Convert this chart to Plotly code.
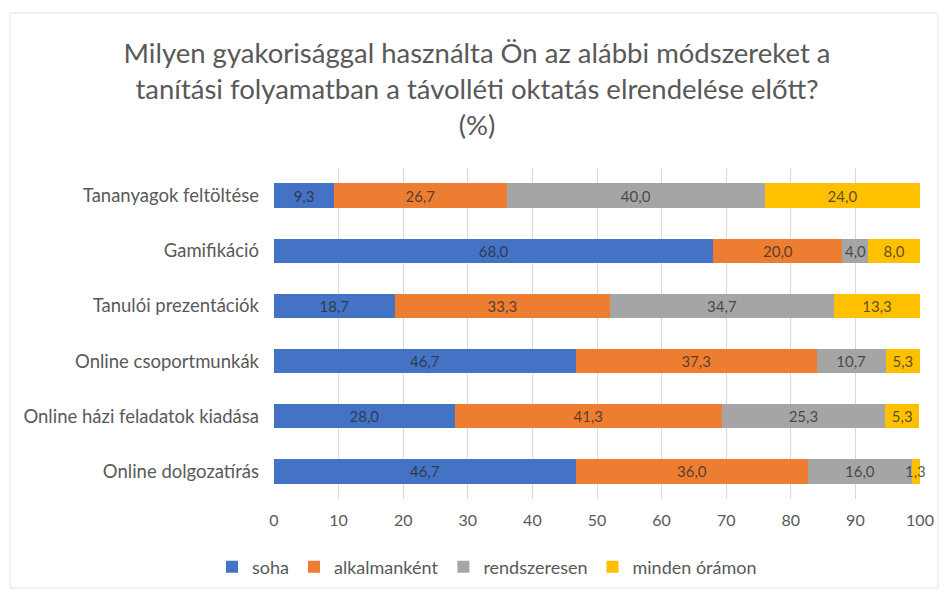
import plotly.graph_objects as go

categories = [
    "Tananyagok feltöltése",
    "Gamifikáció",
    "Tanulói prezentációk",
    "Online csoportmunkák",
    "Online házi feladatok kiadása",
    "Online dolgozatírás",
]
series_names = ["soha", "alkalmanként", "rendszeresen", "minden órámon"]
soha = [9.3, 68.0, 18.7, 46.7, 28.0, 46.7]
alkalmankent = [26.7, 20.0, 33.3, 37.3, 41.3, 36.0]
rendszeresen = [40.0, 4.0, 34.7, 10.7, 25.3, 16.0]
minden_oramon = [24.0, 8.0, 13.3, 5.3, 5.3, 1.3]
x_ticks = [0, 10, 20, 30, 40, 50, 60, 70, 80, 90, 100]

colors = ["#4472C4", "#ED7D31", "#A5A5A5", "#FFC000"]
values = [soha, alkalmankent, rendszeresen, minden_oramon]

font_family = "Lato, Open Sans, Liberation Sans, Arial, sans-serif"
label_color = "rgba(40,40,40,0.75)"
label_size = 15

L, R, T, H = 266, 35, 160, 331
W = 947 - L - R
B = 594 - T - H


def fmt(v):
    return f"{v:.1f}".replace(".", ",")


fig = go.Figure()
annotations = []
cumulative = [0.0] * len(categories)
for name, vals, col in zip(series_names, values, colors):
    templates = []
    for i, v in enumerate(vals):
        if v >= 5:
            templates.append("%{x:.1f}")
        else:
            templates.append("")
            # too narrow for inside text: label centred on the segment, overflowing
            annotations.append(dict(
                x=cumulative[i] + v / 2, y=categories[i], xref="x", yref="y",
                text=fmt(v), showarrow=False, xanchor="center",
                font=dict(color=label_color, size=label_size, family=font_family),
            ))
        cumulative[i] += v
    fig.add_trace(go.Bar(
        y=categories, x=vals, name=name, orientation="h",
        marker=dict(color=col, line=dict(width=0)),
        texttemplate=templates, textposition="inside",
        insidetextanchor="middle", textangle=0,
        textfont=dict(color=label_color, size=label_size, family=font_family),
    ))

fig.update_layout(
    barmode="stack",
    bargap=0.56,
    separators=", ",
    width=947, height=594,
    paper_bgcolor="white", plot_bgcolor="white",
    margin=dict(l=L, r=R, t=T, b=B),
    font=dict(family=font_family, color="#595959"),
    title=dict(
        text="Milyen gyakorisággal használta Ön az alábbi módszereket a<br>tanítási folyamatban a távolléti oktatás elrendelése előtt?<br>(%)",
        x=(469 - L) / W, xref="paper", xanchor="center",
        y=1 - 55 / 594, yanchor="middle",
        font=dict(size=27.5, color="#595959", family=font_family),
    ),
    xaxis=dict(
        range=[0, 100], tickvals=x_ticks, showgrid=True,
        gridcolor="#D9D9D9", gridwidth=1, zeroline=False,
        tickfont=dict(size=16, color="#595959"), ticks="",
        showline=False, ticklabelstandoff=10,
    ),
    yaxis=dict(
        categoryorder="array", categoryarray=categories,
        autorange="reversed", tickfont=dict(size=18.5, color="#595959"),
        ticks="", showline=False, ticklabelstandoff=14,
    ),
    legend=dict(
        orientation="h", x=(204 - L) / W, xanchor="left",
        y=-(559 - (T + H)) / H, yanchor="middle",
        font=dict(size=18, color="#595959"), traceorder="normal",
        itemwidth=30,
    ),
    annotations=annotations,
    showlegend=True,
    shapes=[dict(type="rect", xref="paper", yref="paper",
                 x0=(2 - L) / W, x1=(930 - L) / W,
                 y0=-(580 - (T + H)) / H, y1=1 + (T - 5) / H,
                 line=dict(color="#E3E3E3", width=1))],
)

fig.write_html("out.html")
